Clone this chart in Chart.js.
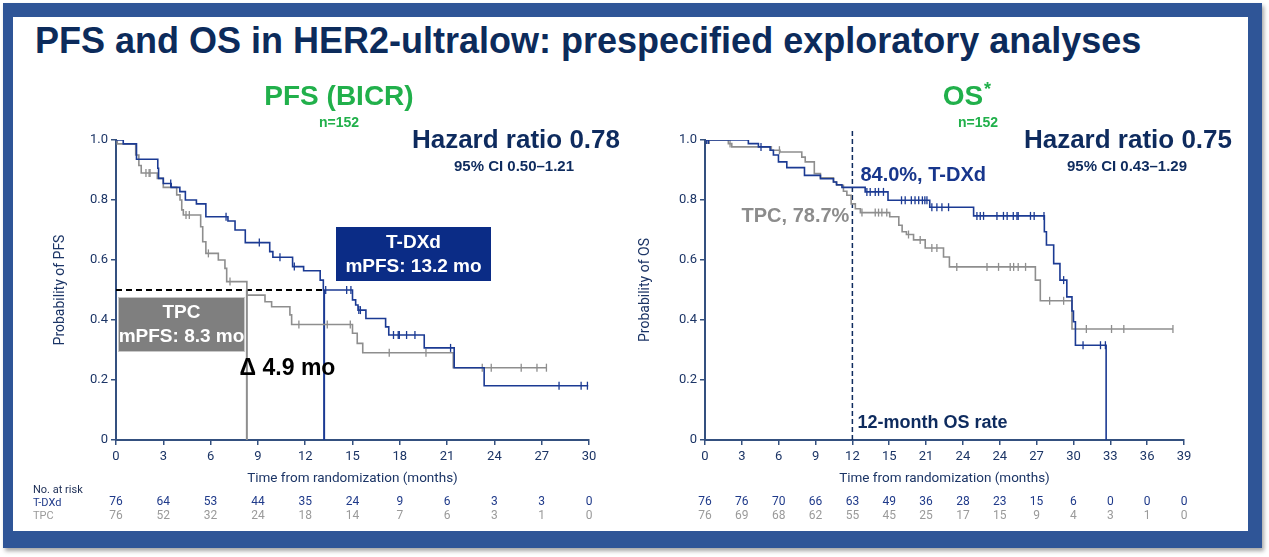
<!DOCTYPE html>
<html>
<head>
<meta charset="utf-8">
<script src="https://cdn.jsdelivr.net/npm/chart.js@4.4.1/dist/chart.umd.min.js"></script>
<style>
  body { margin: 0; width: 1269px; height: 557px; background: #fff; position: relative; overflow: hidden; }
  #frame { position: absolute; left: 3px; top: 3px; width: 1235px; height: 514px;
           border-style: solid; border-color: #2F5597; border-width: 14px 14px 17px 10px;
           box-shadow: 2px 3px 4px rgba(0,0,0,0.35); background: #fff; }
  #title { position: absolute; left: 35px; top: 21px; font: bold 36px "Liberation Sans", Arial, sans-serif;
           line-height: 40px; color: #0C2B5B; white-space: nowrap; }
  .wrap { position: absolute; }
  #pfsWrap { left: 20px; top: 75px; }
  #osWrap { left: 630px; top: 75px; }
</style>
</head>
<body>
<div id="frame"></div>
<div id="title">PFS and OS in HER2-ultralow: prespecified exploratory analyses</div>
<div class="wrap" id="pfsWrap"><canvas id="pfsChart" width="610" height="455"></canvas></div>
<div class="wrap" id="osWrap"><canvas id="osChart" width="615" height="455"></canvas></div>
<script>
// ---- data ----
const pfsTicks = [0, 3, 6, 9, 12, 15, 18, 21, 24, 27, 30];
const pfsRiskTdxd = [76, 64, 53, 44, 35, 24, 9, 6, 3, 3, 0];
const pfsRiskTpc = [76, 52, 32, 24, 18, 14, 7, 6, 3, 1, 0];

const osTicks = [0, 3, 6, 9, 12, 15, 18, 21, 24, 27, 30, 33, 36, 39];
const osTickLabels = ["0", "3", "6", "9", "12", "15", "21", "24", "24", "27", "30", "33", "36", "39"];
const osRiskTdxd = [76, 76, 70, 66, 63, 49, 36, 28, 23, 15, 6, 0, 0, 0];
const osRiskTpc = [76, 69, 68, 62, 55, 45, 25, 17, 15, 9, 4, 3, 1, 0];

// Kaplan-Meier steps: event time (months) and survival after it
const pfsTdxdTime = [0, 0.46, 1.3, 2.65, 2.7, 3.0, 3.5, 4.05, 4.4, 5.1, 5.7, 7.1, 7.55, 8.2, 9.75, 9.95, 11.2, 11.9, 12.95, 13.15, 15.0, 15.2, 15.35, 15.85, 17.1, 17.3, 19.55, 21.45, 23.35, 29.95];
const pfsTdxdSurv = [1, 0.987, 0.936, 0.906, 0.872, 0.855, 0.842, 0.828, 0.8, 0.787, 0.744, 0.73, 0.7, 0.658, 0.628, 0.609, 0.578, 0.564, 0.533, 0.5, 0.467, 0.45, 0.433, 0.405, 0.377, 0.35, 0.307, 0.241, 0.181, 0.181];
const pfsTdxdCensor = [3.47, 6.98, 9.09, 10.4, 11.31, 13.3, 14.63, 14.9, 15.4, 15.5, 17.6, 17.9, 17.97, 18.43, 18.96, 21.22, 28.1, 29.5, 29.9];

const pfsTpcTime = [0, 0.08, 1.25, 1.45, 1.6, 2.62, 3.0, 3.85, 4.06, 4.17, 4.27, 5.37, 5.5, 5.7, 6.49, 6.91, 7.02, 8.3, 9.45, 9.87, 11.03, 11.14, 15.0, 15.3, 15.65, 21.39, 27.3];
const pfsTpcSurv = [1, 0.987, 0.95, 0.915, 0.89, 0.872, 0.842, 0.817, 0.8, 0.767, 0.75, 0.711, 0.661, 0.622, 0.6, 0.572, 0.528, 0.483, 0.461, 0.444, 0.417, 0.385, 0.356, 0.322, 0.291, 0.241, 0.241];
const pfsTpcCensor = [1.9, 2.1, 2.16, 4.44, 4.65, 5.86, 7.23, 11.6, 13.4, 14.86, 17.33, 19.66, 23.23, 23.8, 25.7, 26.7, 27.3];

const pfsMedianTdxd = 13.2;
const pfsMedianTpc = 8.3;

const osTdxdTime = [0, 3.53, 4.35, 5.3, 5.57, 5.98, 6.66, 8.1, 9.4, 10.46, 10.7, 11.15, 13.04, 14.9, 18.3, 21.87, 27.63, 27.8, 28.39, 28.9, 29.46, 29.88, 30.0, 30.16, 32.66];
const osTdxdSurv = [1, 0.988, 0.977, 0.966, 0.95, 0.927, 0.908, 0.882, 0.871, 0.86, 0.851, 0.842, 0.827, 0.799, 0.776, 0.747, 0.694, 0.65, 0.588, 0.533, 0.477, 0.43, 0.394, 0.316, 0];
const osTdxdCensor = [0.14, 0.28, 4.56, 13.18, 13.45, 13.86, 14.13, 14.53, 16.0, 16.3, 16.8, 17.1, 17.4, 17.7, 17.9, 18.07, 18.47, 18.88, 19.29, 19.83, 22.14, 22.41, 22.68, 23.77, 24.3, 24.6, 25.1, 25.4, 25.5, 26.5, 26.8, 27.6, 29.2, 30.78, 32.2, 32.6];

const osTpcTime = [0, 1.9, 2.18, 5.4, 6.1, 7.88, 8.16, 8.9, 9.4, 10.46, 10.73, 11.27, 11.55, 11.9, 12.24, 12.65, 15.04, 15.78, 16.05, 16.4, 16.98, 17.93, 19.42, 19.9, 26.9, 27.3, 29.88, 38.1];
const osTpcSurv = [1, 0.988, 0.977, 0.966, 0.96, 0.943, 0.927, 0.888, 0.874, 0.86, 0.849, 0.829, 0.816, 0.787, 0.771, 0.758, 0.744, 0.716, 0.694, 0.685, 0.667, 0.64, 0.61, 0.577, 0.533, 0.464, 0.37, 0.37];
const osTpcCensor = [0.15, 0.35, 2.04, 6.06, 12.78, 13.86, 14.13, 14.4, 14.8, 16.57, 17.52, 18.47, 18.88, 20.5, 22.96, 23.9, 24.85, 25.13, 25.5, 26.1, 28.06, 29.2, 31.05, 33.1, 34.1, 38.1];

const osLandmark = 12;

// ---- colours ----
const navy = "#1B3A93";
const navyText = "#0E2B5E";
const axisNavy = "#34507F";
const tickNavy = "#1C3566";
const grey = "#8E8E8E";
const green = "#21B04B";

function stepPoints(times, surv) {
    return times.map((t, i) => ({ x: t, y: surv[i] }));
}
function survAt(times, surv, t) {
    let s = surv[0];
    for (let i = 0; i < times.length; i++) if (times[i] <= t) s = surv[i];
    return s;
}
function censorPoints(cens, times, surv) {
    return cens.map(t => ({ x: t, y: survAt(times, surv, t) }));
}
function kmLine(data, color) {
    return { data: data, borderColor: color, borderWidth: 1.6, stepped: "before", pointRadius: 0, fill: false };
}
function censorSet(data, color) {
    return { data: data, showLine: false, pointStyle: "line", rotation: 90, pointRadius: 4,
             borderColor: color, pointBorderColor: color, pointBorderWidth: 1.3 };
}

function write(ctx, str, x, y, font, color, align) {
    ctx.font = font;
    ctx.fillStyle = color;
    ctx.textAlign = align || "left";
    ctx.textBaseline = "middle";
    ctx.fillText(str, x, y);
}

function drawRisk(chart, ticks, tdxd, tpc, withLabels) {
    const { ctx, scales: { x } } = chart;
    const base = chart.chartArea.bottom;
    ticks.forEach((t, i) => {
        const px = x.getPixelForValue(t);
        write(ctx, String(tdxd[i]), px, base + 62, "12px Roboto", "#1F3A8A", "center");
        write(ctx, String(tpc[i]), px, base + 76, "12px Roboto", "#9A9A9A", "center");
    });
    if (withLabels) {
        write(ctx, "No. at risk", 13, base + 50, "11px Roboto", "#1C2D55");
        write(ctx, "T-DXd", 13, base + 63, "11px Roboto", "#1F3A8A");
        write(ctx, "TPC", 13, base + 76, "11px Roboto", "#9A9A9A");
    }
}

function scaleOpts(ticks, labels, yTitle, yWidth, yTitlePad) {
    return {
        x: {
            type: "linear", min: ticks[0], max: ticks[ticks.length - 1],
            afterBuildTicks: s => { s.ticks = ticks.map(v => ({ value: v })); },
            ticks: { color: tickNavy, font: { family: "Roboto", size: 13 }, padding: 4, maxRotation: 0, autoSkip: false,
                     callback: (v, i) => labels ? labels[i] : String(v) },
            grid: { drawOnChartArea: false, drawTicks: true, tickLength: 5, color: axisNavy, lineWidth: 1.5 },
            border: { color: axisNavy, width: 2 },
            title: { display: true, text: "Time from randomization (months)", color: tickNavy,
                     font: { family: "Roboto", size: 13.5 }, padding: { top: 0, bottom: 3 } },
            afterFit: s => { s.height = 50; }
        },
        y: {
            min: 0, max: 1,
            afterBuildTicks: s => { s.ticks = [0, 0.2, 0.4, 0.6, 0.8, 1].map(v => ({ value: v })); },
            ticks: { color: tickNavy, font: { family: "Roboto", size: 13 }, padding: 3,
                     callback: v => v === 0 ? "0" : v.toFixed(1) },
            grid: { drawOnChartArea: false, drawTicks: true, tickLength: 5, color: axisNavy, lineWidth: 1.5 },
            border: { color: axisNavy, width: 2 },
            title: { display: true, text: yTitle, color: tickNavy, font: { family: "Roboto", size: 14 },
                     padding: { top: yTitlePad, bottom: 0 } },
            afterFit: s => { s.width = yWidth; }
        }
    };
}

// ---- PFS chart ----
const pfsNotes = {
    id: "pfsNotes",
    afterDraw(chart) {
        const { ctx, chartArea: a, scales: { x } } = chart;
        ctx.save();
        write(ctx, "PFS (BICR)", a.left + 223, a.top - 43, "bold 28px 'Liberation Sans'", green, "center");
        write(ctx, "n=152", a.left + 223, a.top - 17, "bold 14px 'Liberation Sans'", green, "center");
        write(ctx, "Hazard ratio 0.78", a.left + 504, a.top + 1, "bold 26px 'Liberation Sans'", navyText, "right");
        write(ctx, "95% CI 0.50\u20131.21", a.left + 398, a.top + 27, "bold 15px 'Liberation Sans'", navyText, "center");

        ctx.fillStyle = "#0B2C86";
        ctx.fillRect(a.left + 220, a.top + 87, 155, 54);
        write(ctx, "T-DXd", a.left + 297.5, a.top + 103, "bold 19px 'Liberation Sans'", "#fff", "center");
        write(ctx, "mPFS: 13.2 mo", a.left + 297.5, a.top + 127, "bold 19px 'Liberation Sans'", "#fff", "center");

        ctx.fillStyle = "#7F7F7F";
        ctx.fillRect(a.left + 2, a.top + 157, 127, 55);
        ctx.strokeStyle = "#C8C8C8";
        ctx.lineWidth = 1;
        ctx.strokeRect(a.left + 2.5, a.top + 157.5, 126, 54);
        write(ctx, "TPC", a.left + 65.5, a.top + 173, "bold 19px 'Liberation Sans'", "#fff", "center");
        write(ctx, "mPFS: 8.3 mo", a.left + 65.5, a.top + 197, "bold 19px 'Liberation Sans'", "#fff", "center");

        const mid = x.getPixelForValue((pfsMedianTdxd + pfsMedianTpc) / 2);
        write(ctx, "\u0394 4.9 mo", mid + 2, a.top + 229, "bold 23px 'Liberation Sans'", "#000", "center");

        drawRisk(chart, pfsTicks, pfsRiskTdxd, pfsRiskTpc, true);
        ctx.restore();
    }
};

new Chart(document.getElementById("pfsChart"), {
    type: "line",
    data: {
        datasets: [
            kmLine(stepPoints(pfsTdxdTime, pfsTdxdSurv), navy),
            censorSet(censorPoints(pfsTdxdCensor, pfsTdxdTime, pfsTdxdSurv), navy),
            kmLine(stepPoints(pfsTpcTime, pfsTpcSurv), grey),
            censorSet(censorPoints(pfsTpcCensor, pfsTpcTime, pfsTpcSurv), grey),
            { data: [{ x: 0, y: 0.5 }, { x: pfsMedianTdxd, y: 0.5 }], borderColor: "#000", borderWidth: 2,
              borderDash: [6, 4], pointRadius: 0 },
            { data: [{ x: pfsMedianTpc, y: 0.5 }, { x: pfsMedianTpc, y: 0 }], borderColor: grey, borderWidth: 2, pointRadius: 0 },
            { data: [{ x: pfsMedianTdxd, y: 0.5 }, { x: pfsMedianTdxd, y: 0 }], borderColor: navy, borderWidth: 2, pointRadius: 0 }
        ]
    },
    options: {
        responsive: false, animation: false,
        layout: { padding: { left: 0, right: 41, top: 65, bottom: 40 } },
        plugins: { legend: { display: false }, tooltip: { enabled: false } },
        scales: scaleOpts(pfsTicks, null, "Probability of PFS", 96, 32)
    },
    plugins: [pfsNotes]
});

// ---- OS chart ----
const osNotes = {
    id: "osNotes",
    beforeDatasetsDraw(chart) {
        const { ctx, chartArea: a, scales: { x } } = chart;
        const px = x.getPixelForValue(osLandmark);
        ctx.save();
        ctx.strokeStyle = navyText;
        ctx.lineWidth = 1.5;
        ctx.setLineDash([5, 3]);
        ctx.beginPath();
        ctx.moveTo(px, a.bottom);
        ctx.lineTo(px, a.top - 9);
        ctx.stroke();
        ctx.restore();
    },
    afterDraw(chart) {
        const { ctx, chartArea: a, scales: { x } } = chart;
        const px = x.getPixelForValue(osLandmark);
        ctx.save();
        write(ctx, "OS", a.left + 258, a.top - 43, "bold 28px 'Liberation Sans'", green, "center");
        write(ctx, "*", a.left + 279, a.top - 50, "bold 18px 'Liberation Sans'", green);
        write(ctx, "n=152", a.left + 273, a.top - 17, "bold 14px 'Liberation Sans'", green, "center");
        write(ctx, "Hazard ratio 0.75", a.left + 527, a.top + 1, "bold 26px 'Liberation Sans'", navyText, "right");
        write(ctx, "95% CI 0.43\u20131.29", a.left + 422, a.top + 27, "bold 15px 'Liberation Sans'", navyText, "center");
        write(ctx, "84.0%, T-DXd", px + 8, a.top + 35, "bold 20px 'Liberation Sans'", "#17368C");
        write(ctx, "TPC, 78.7%", px - 3, a.top + 76, "bold 20px 'Liberation Sans'", "#8C8C8C", "right");
        write(ctx, "12-month OS rate", px + 5, a.top + 283, "bold 18px 'Liberation Sans'", navyText);
        drawRisk(chart, osTicks, osRiskTdxd, osRiskTpc, false);
        ctx.restore();
    }
};

new Chart(document.getElementById("osChart"), {
    type: "line",
    data: {
        datasets: [
            kmLine(stepPoints(osTdxdTime, osTdxdSurv), navy),
            censorSet(censorPoints(osTdxdCensor, osTdxdTime, osTdxdSurv), navy),
            kmLine(stepPoints(osTpcTime, osTpcSurv), grey),
            censorSet(censorPoints(osTpcCensor, osTpcTime, osTpcSurv), grey)
        ]
    },
    options: {
        responsive: false, animation: false,
        layout: { padding: { left: 0, right: 61, top: 65, bottom: 40 } },
        plugins: { legend: { display: false }, tooltip: { enabled: false } },
        scales: scaleOpts(osTicks, osTickLabels, "Probability of OS", 75, 7)
    },
    plugins: [osNotes]
});
</script>
</body>
</html>
